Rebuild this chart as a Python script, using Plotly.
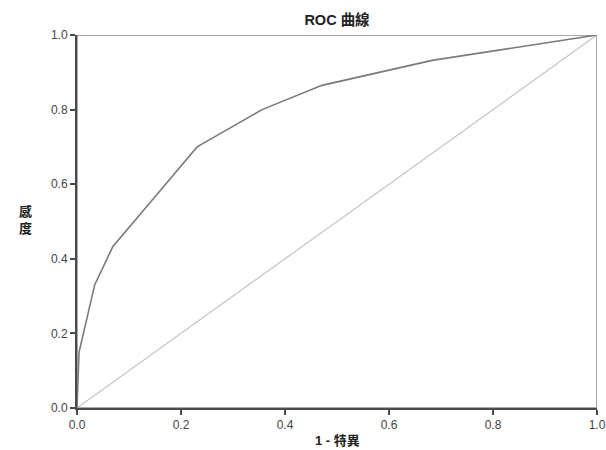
import plotly.graph_objects as go

fpr = [0.0, 0.004, 0.034, 0.069, 0.137, 0.231, 0.356, 0.471, 0.683, 1.0]
tpr = [0.0, 0.15, 0.33, 0.433, 0.545, 0.70, 0.80, 0.865, 0.932, 1.0]
ref_x = [0.0, 1.0]
ref_y = [0.0, 1.0]
tick_vals = [0.0, 0.2, 0.4, 0.6, 0.8, 1.0]
tick_text = ["0.0", "0.2", "0.4", "0.6", "0.8", "1.0"]

font_family = "Liberation Sans, Arial, Noto Sans CJK TC, sans-serif"

W, H = 606, 450
L, R, T, B = 77, 9, 35, 42
PH = H - T - B

fig = go.Figure()
fig.add_trace(go.Scatter(x=ref_x, y=ref_y, mode="lines",
                         line=dict(color="#c4c4c4", width=1.2), showlegend=False))
fig.add_trace(go.Scatter(x=fpr, y=tpr, mode="lines",
                         line=dict(color="#7a7a7a", width=1.6), showlegend=False))

fig.add_shape(type="rect", xref="x", yref="y", x0=0, y0=0, x1=1, y1=1,
              line=dict(color="#8a8a8a", width=1.5), layer="below")

fig.update_layout(
    width=W, height=H,
    margin=dict(l=L, r=R, t=T, b=B, autoexpand=False),
    paper_bgcolor="white", plot_bgcolor="white",
    font=dict(family=font_family, color="#444444", size=12),
    title=dict(text="<b>ROC 曲線</b>", x=0.5, xref="paper", y=1 - 20 / H,
               yref="container", xanchor="center", yanchor="middle",
               font=dict(size=14.5, color="#222222", family=font_family)),
    xaxis=dict(range=[0, 1], tickvals=tick_vals, ticktext=tick_text, automargin=False,
               showgrid=False, zeroline=False, showline=True, ticklabeloverflow="allow",
               linecolor="#4a4a4a", linewidth=2, ticks="outside", ticklen=5,
               tickcolor="#4a4a4a", tickwidth=1.5),
    yaxis=dict(range=[0, 1], tickvals=tick_vals, ticktext=tick_text, automargin=False,
               showgrid=False, zeroline=False, showline=True, ticklabeloverflow="allow",
               linecolor="#4a4a4a", linewidth=2, ticks="outside", ticklen=5,
               tickcolor="#4a4a4a", tickwidth=1.5),
    annotations=[
        dict(text="<b>感<br>度</b>", xref="paper", yref="paper",
             x=(25 - L) / 520, y=(H - B - 220) / PH, xanchor="center", yanchor="middle",
             showarrow=False, font=dict(size=13, color="#222222")),
        dict(text="<b>1 - 特異</b>", xref="paper", yref="paper",
             x=0.5, y=-(440 - (H - B)) / PH, xanchor="center", yanchor="middle",
             showarrow=False, font=dict(size=13, color="#222222")),
    ],
)

fig.write_html(
    "out.html",
    config={"displayModeBar": False},
    post_script="document.body.style.margin='0';document.body.style.overflow='hidden';",
)
